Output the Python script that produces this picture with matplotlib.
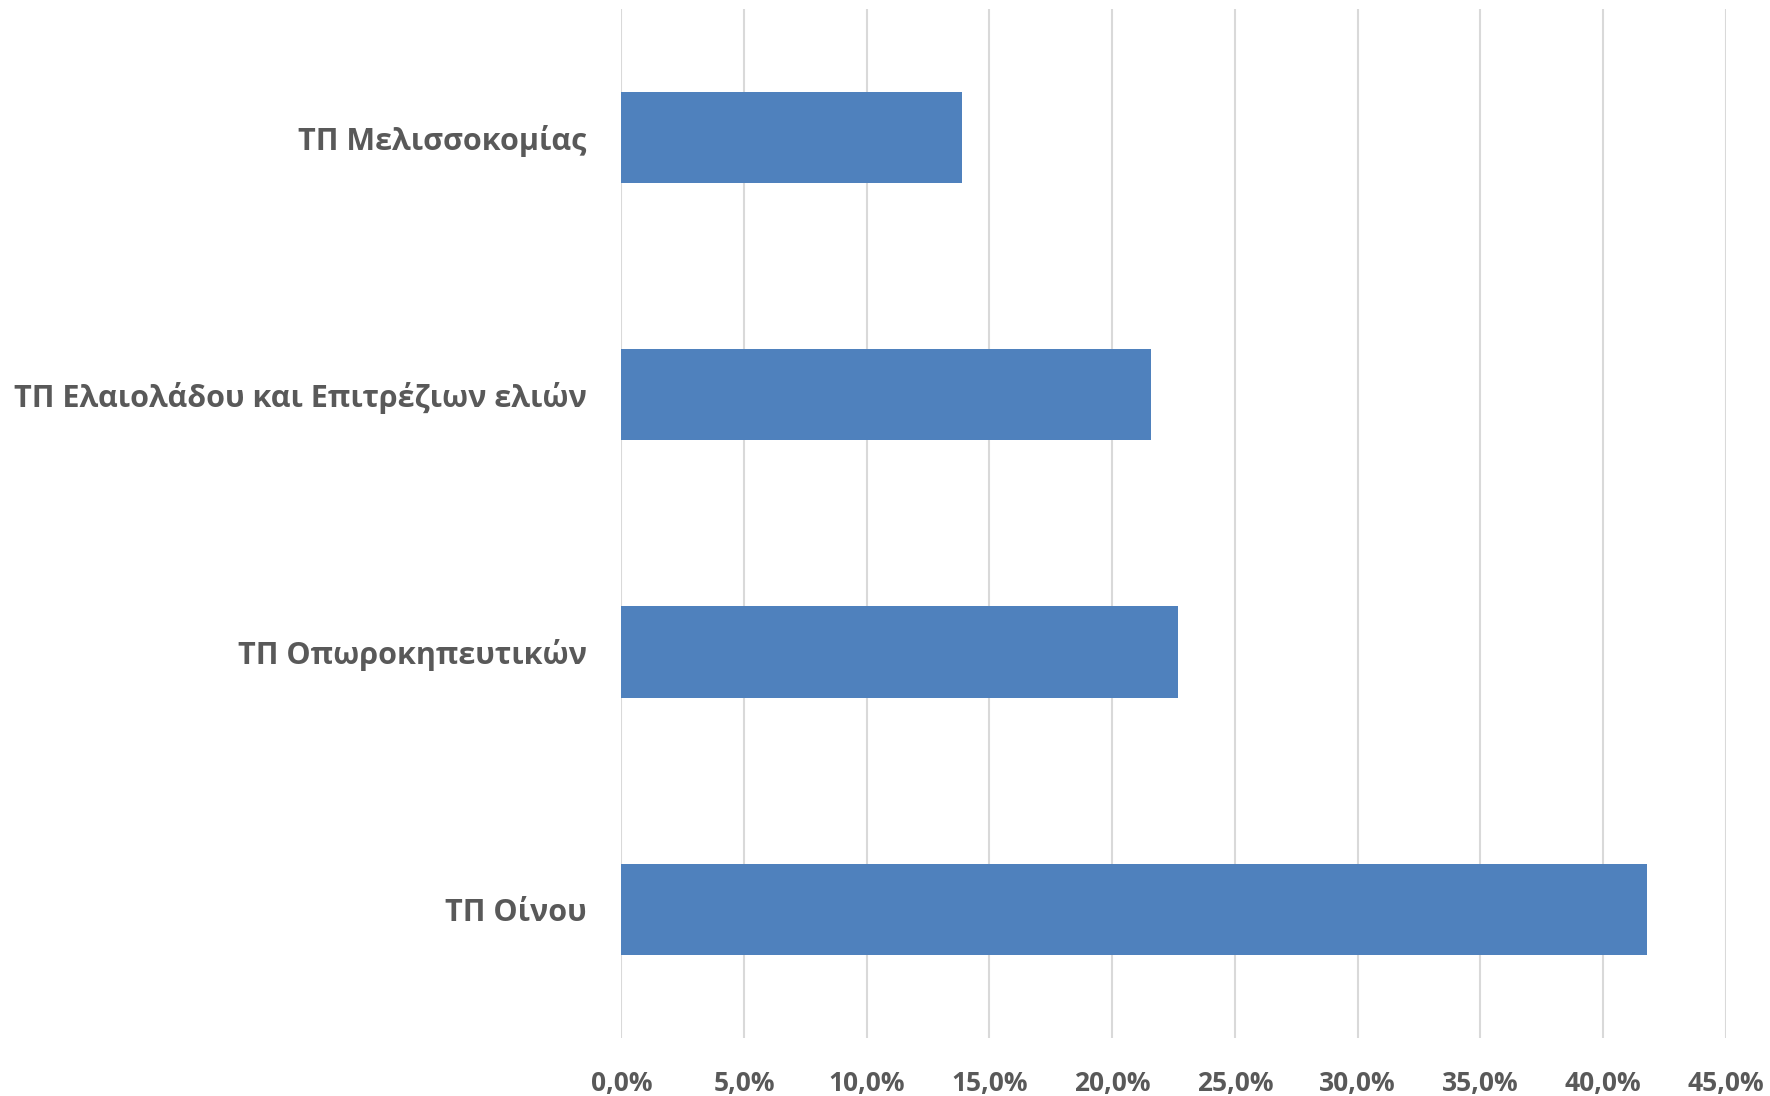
import matplotlib
matplotlib.use('Agg')
import matplotlib.pyplot as plt
from matplotlib.ticker import FuncFormatter

# δεδομένα (από πάνω προς τα κάτω)
categories = ['ΤΠ Μελισσοκομίας', 'ΤΠ Ελαιολάδου και Επιτρέζιων ελιών',
              'ΤΠ Οπωροκηπευτικών', 'ΤΠ Οίνου']
values = [13.9, 21.6, 22.7, 41.8]

plt.rcParams['font.family'] = ['Open Sans', 'DejaVu Sans']

fig = plt.figure(figsize=(17.7, 10.96), dpi=100)
ax = fig.add_axes([0.351, 0.053, 0.624, 0.939])

pos = range(len(categories))
ax.barh(pos, values, height=0.355, color='#4F81BD', zorder=3)

ax.set_ylim(len(categories) - 0.5, -0.5)
ax.set_xlim(0, 45)
ax.set_xticks(range(0, 46, 5))
ax.xaxis.set_major_formatter(FuncFormatter(lambda v, p: f'{v:.1f}%'.replace('.', ',')))
ax.set_yticks(list(pos))
ax.set_yticklabels(categories)

ax.grid(axis='x', color='#D9D9D9', linewidth=1.5, zorder=0)
for s in ax.spines.values():
    s.set_visible(False)
ax.tick_params(axis='both', length=0)
ax.tick_params(axis='x', pad=23, labelsize=19, labelcolor='#595959')
ax.tick_params(axis='y', pad=25, labelsize=22, labelcolor='#595959')
for lbl in ax.get_xticklabels() + ax.get_yticklabels():
    lbl.set_fontweight('bold')

fig.savefig('out.png', dpi=100)
